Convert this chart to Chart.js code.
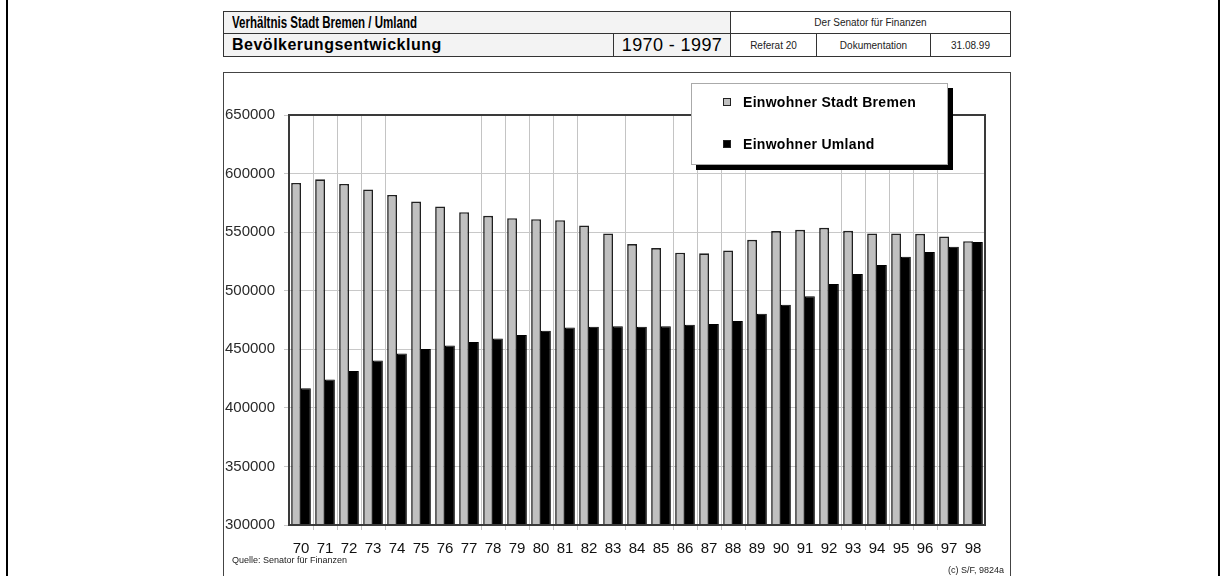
<!DOCTYPE html>
<html>
<head>
<meta charset="utf-8">
<script src="https://cdn.jsdelivr.net/npm/chart.js@4"></script>
<style>
  body { margin: 0; background: #fff; font-family: "Liberation Sans", Arial, sans-serif; }
  #page { position: relative; width: 1226px; height: 576px; overflow: hidden; }
  #chart { position: absolute; left: 0; top: 0; }
  .edge { position: absolute; top: 0; width: 2px; height: 576px; background: #000; }
  .cell { position: absolute; box-sizing: border-box; border: 1px solid #333; display: flex; align-items: center; white-space: nowrap; }
  .big { font-weight: bold; padding-left: 8px; background: #f3f3f3; }
  .big span { display: inline-block; transform-origin: left center; }
  .small { font-size: 10px; justify-content: center; color: #222; }
  .frame { position: absolute; left: 223px; top: 72px; width: 788px; height: 540px; box-sizing: border-box; border: 1.5px solid #444; }
  #legend { position: absolute; left: 691px; top: 83px; width: 257px; height: 82px; box-sizing: border-box;
            background: #fff; border: 1px solid #aaa; box-shadow: 5px 5px 0 #000; }
  .item { position: absolute; left: 31px; font-weight: bold; font-size: 14px; letter-spacing: 0.3px; display: flex; align-items: center; }
  .item i { display: inline-block; width: 6px; height: 6px; border: 1px solid #222; margin-right: 12px; }
  .note { position: absolute; font-size: 9px; color: #222; }
</style>
</head>
<body>
<div id="page">
  <div class="edge" style="left:6px"></div>
  <div class="edge" style="left:1218px"></div>

  <div class="cell big" style="left:223px;top:11px;width:508px;height:23px;font-size:16px"><span style="transform:scaleX(0.72)">Verhältnis Stadt Bremen / Umland</span></div>
  <div class="cell small" style="left:730px;top:11px;width:281px;height:23px">Der Senator für Finanzen</div>
  <div class="cell big" style="left:223px;top:33px;width:391px;height:24px;font-size:16px;letter-spacing:0.5px"><span>Bevölkerungsentwicklung</span></div>
  <div class="cell" style="left:613px;top:33px;width:118px;height:24px;justify-content:center;font-size:18px;letter-spacing:0.4px;background:#f3f3f3">1970 - 1997</div>
  <div class="cell small" style="left:730px;top:33px;width:87px;height:24px">Referat 20</div>
  <div class="cell small" style="left:816px;top:33px;width:115px;height:24px">Dokumentation</div>
  <div class="cell small" style="left:930px;top:33px;width:81px;height:24px">31.08.99</div>

  <div class="frame"></div>
  <canvas id="chart" width="1226" height="576"></canvas>
  <div id="legend"></div>

  <div class="note" style="left:232px;top:555px">Quelle: Senator für Finanzen</div>
  <div class="note" style="right:222px;top:565px">(c) S/F, 9824a</div>
</div>

<script>
const years = ["70","71","72","73","74","75","76","77","78","79","80","81","82","83","84",
               "85","86","87","88","89","90","91","92","93","94","95","96","97","98"];

const stadtBremen = [592000, 595100, 591100, 586400, 581800, 576100, 571900, 567000, 563900, 561900,
                     561100, 560200, 555700, 548900, 539800, 536400, 532400, 531900, 534400, 543400,
                     550900, 552000, 553700, 551100, 548900, 548900, 548600, 546300, 542300];

const umland = [416800, 424200, 431500, 440400, 446300, 450300, 453200, 456200, 459300, 462300,
                465900, 468500, 469300, 469700, 469300, 469700, 471000, 471600, 474200, 480300,
                488100, 495200, 505700, 514200, 521900, 529000, 533000, 537500, 541500];

const yMin = 300000;
const yMax = 650000;
const yStep = 50000;

// vertikale Linien, die im Original sichtbar sind (Kategoriegrenzen)
const shownVLines = [1,2,3,4,8,9,10,11,12,14,16,17,18,19,23,24,25,26,27];

// Rahmen um die Zeichenfläche
const plotFrame = {
  id: "plotFrame",
  afterDatasetsDraw(chart) {
    const a = chart.chartArea;
    const ctx = chart.ctx;
    ctx.save();
    ctx.strokeStyle = "#3a3a3a";
    ctx.lineWidth = 2;
    ctx.strokeRect(a.left, a.top, a.right - a.left, a.bottom - a.top);
    ctx.restore();
  }
};

const chart = new Chart(document.getElementById("chart"), {
  type: "bar",
  data: {
    labels: years,
    datasets: [
      {
        label: "Einwohner Stadt Bremen",
        data: stadtBremen,
        backgroundColor: "#c0c0c0",
        borderColor: "#202020",
        borderWidth: 1.6
      },
      {
        label: "Einwohner Umland",
        data: umland,
        backgroundColor: "#000",
        borderColor: "#000",
        borderWidth: 1
      }
    ]
  },
  options: {
    responsive: false,
    animation: false,
    events: [],
    layout: { padding: { left: 220, right: 241, top: 115, bottom: 0 } },
    datasets: { bar: { categoryPercentage: 0.82, barPercentage: 1.0 } },
    plugins: { legend: { display: false }, tooltip: { enabled: false } },
    scales: {
      x: {
        offset: true,
        border: { display: false },
        grid: {
          offset: true,
          tickLength: 5,
          color: c => shownVLines.includes(c.index) ? "#c4c4c4" : "rgba(0,0,0,0)"
        },
        ticks: {
          color: "#111",
          padding: 10,
          maxRotation: 0,
          autoSkip: false,
          font: { family: "Liberation Sans", size: 15 }
        },
        afterFit: s => { s.height = 51; }
      },
      y: {
        min: yMin,
        max: yMax,
        border: { display: false },
        grid: { color: "#c8c8c8", tickLength: 5 },
        ticks: {
          stepSize: yStep,
          color: "#2a2a2a",
          padding: 9,
          font: { family: "Liberation Sans", size: 15 },
          callback: v => String(v)
        },
        afterFit: s => { s.width = 69; }
      }
    }
  },
  plugins: [plotFrame]
});

// Legende als HTML, aus den Datensätzen
const legend = document.getElementById("legend");
legend.innerHTML = chart.data.datasets.map((d, i) =>
  `<div class="item" style="top:${i === 0 ? 10 : 52}px"><i style="background:${d.backgroundColor}"></i>${d.label}</div>`
).join("");
</script>
</body>
</html>
